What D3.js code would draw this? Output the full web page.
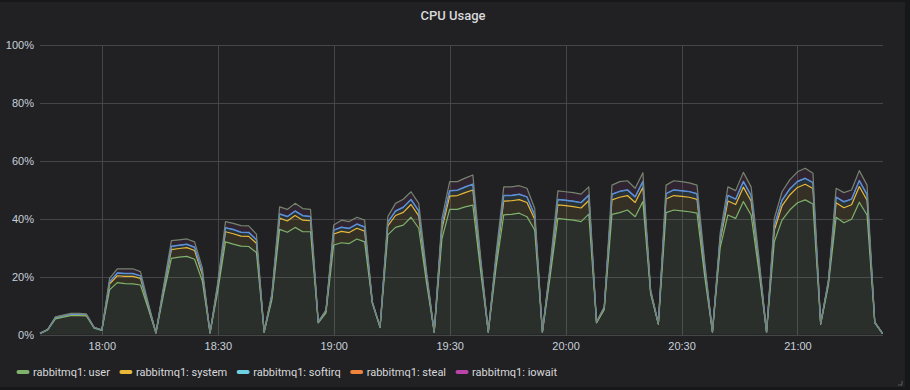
<!DOCTYPE html>
<html>
<head>
<meta charset="utf-8">
<script src="https://cdnjs.cloudflare.com/ajax/libs/d3/7.8.5/d3.min.js"></script>
<style>
  body { margin: 0; background: #161719; }
  svg { display: block; font-family: Roboto, "Helvetica Neue", Arial, sans-serif; }
</style>
</head>
<body>
<svg id="chart" width="910" height="390"></svg>
<script>
// series values (percent), one sample every 2 minutes from 17:44
var user = [0.3,1.6,5.4,6.0,6.5,6.5,6.4,2.2,1.4,15.4,
  17.9,17.6,17.5,17.1,9.0,0.5,14.0,26.3,26.7,27.0,
  26.0,18.5,0.5,15.0,32.0,31.2,30.5,30.4,28.3,0.8,
  12.0,36.3,35.3,37.0,35.5,35.5,4.0,7.5,30.9,31.7,
  31.4,33.0,32.0,10.7,2.4,34.4,37.0,37.8,40.5,36.7,
  18.0,0.8,33.0,43.2,43.2,44.1,44.7,22.0,0.8,23.0,
  41.3,41.5,41.9,40.7,36.1,0.8,20.0,40.1,39.8,39.5,
  39.0,41.6,4.0,8.6,41.5,42.1,43.0,40.7,45.9,14.0,
  3.5,42.1,43.0,42.7,42.4,41.9,20.0,0.8,30.0,41.3,
  40.1,45.9,41.3,22.0,0.8,32.0,39.5,43.0,45.5,46.5,
  45.1,3.5,17.0,40.5,38.6,39.8,45.7,41.3,4.0,0.3];
var system = [0.1,0.1,0.4,0.4,0.4,0.4,0.4,0.2,0.1,2.0,
  2.4,2.5,2.6,2.3,1.0,0.1,1.5,3.0,3.0,3.0,
  3.0,2.2,0.1,1.5,3.5,3.6,3.5,3.5,3.2,0.1,
  1.1,3.9,3.9,4.1,4.0,3.8,0.2,0.5,3.8,3.9,
  3.8,3.7,3.7,0.3,0.2,3.1,4.1,4.4,4.4,4.3,
  2.0,0.1,3.5,4.6,4.8,4.9,5.2,2.5,0.1,2.5,
  4.8,4.7,4.7,4.9,3.7,0.1,2.0,4.7,4.7,4.7,
  4.7,4.7,0.2,0.5,5.0,5.3,5.0,4.9,5.0,0.7,
  0.2,4.7,5.0,5.0,5.0,4.8,2.5,0.1,2.5,4.8,
  4.8,5.0,4.8,2.5,0.1,4.0,4.9,5.2,5.3,5.4,
  5.3,0.2,0.9,5.0,5.2,5.0,5.4,5.1,0.2,0.1];
var softirq = [0,0,0.1,0.1,0.1,0.1,0.1,0,0,0.7,
  0.9,0.9,0.9,0.8,0.3,0,0.5,1.1,1.1,1.1,
  1.1,0.8,0,0.5,1.3,1.4,1.3,1.3,1.2,0,
  0.4,1.4,1.5,1.5,1.5,1.4,0.1,0.2,1.3,1.4,
  1.4,1.4,1.4,0.1,0,1.2,1.5,1.7,1.7,1.6,
  0.7,0,1.3,1.8,1.8,1.9,2.0,0.9,0,0.9,
  1.9,1.8,1.8,1.9,1.4,0,0.7,1.8,1.8,1.8,
  1.8,1.8,0.1,0.2,1.9,2.0,1.9,1.9,1.9,0.3,
  0.1,1.8,1.9,1.9,1.9,1.9,0.9,0,0.9,1.9,
  1.8,1.9,1.9,0.9,0,1.5,1.9,2.0,2.0,2.0,
  2.0,0.1,0.4,1.9,2.0,1.9,2.0,1.9,0.1,0];
var steal = [0,0,0,0,0,0,0,0,0,0.1,
  0.1,0.1,0.1,0.1,0.1,0,0.1,0.1,0.1,0.1,
  0.1,0.1,0,0.1,0.1,0.1,0.1,0.1,0.1,0,
  0.1,0.1,0.1,0.1,0.1,0.1,0,0,0.1,0.1,
  0.1,0.1,0.1,0,0,0.1,0.1,0.1,0.1,0.1,
  0.1,0,0.1,0.1,0.1,0.1,0.1,0.1,0,0.1,
  0.1,0.1,0.1,0.1,0.1,0,0.1,0.1,0.1,0.1,
  0.1,0.1,0,0,0.1,0.1,0.1,0.1,0.1,0,
  0,0.1,0.1,0.1,0.1,0.1,0.1,0,0.1,0.1,
  0.1,0.1,0.1,0.1,0,0.1,0.1,0.1,0.1,0.1,
  0.1,0,0,0.1,0.1,0.1,0.1,0.1,0,0];
var iowait = [0,0.1,0.2,0.2,0.3,0.3,0.2,0.1,0.1,1.2,
  1.4,1.6,1.6,1.4,0.6,0,0.9,1.9,1.8,1.8,
  1.8,1.4,0,0.9,2.1,2.1,2.2,2.2,1.9,0.1,
  0.6,2.4,2.4,2.6,2.4,2.4,0.1,0.3,1.7,2.4,
  2.3,2.3,2.3,0.2,0.1,1.9,2.6,2.7,2.6,2.6,
  1.2,0.1,2.1,3.1,2.9,3.0,3.1,1.5,0.1,1.5,
  2.9,2.9,2.9,2.9,2.3,0.1,1.2,2.9,2.9,2.9,
  2.9,2.8,0.1,0.3,3.1,3.3,3.1,2.9,3.0,0.4,
  0.1,2.9,3.1,3.1,3.0,2.9,1.5,0.1,1.5,2.9,
  2.9,3.1,2.9,1.5,0.1,2.4,2.9,3.1,3.3,3.4,
  3.2,0.1,0.5,3.0,3.1,3.1,3.4,3.2,0.1,0];

var seriesNames = ["rabbitmq1: user", "rabbitmq1: system", "rabbitmq1: softirq", "rabbitmq1: steal", "rabbitmq1: iowait"];
var yTicks = [0, 20, 40, 60, 80, 100];

var keys = ["user", "system", "softirq", "steal", "iowait"];
var colors = { user: "#7eb26d", system: "#eab839", softirq: "#6ed0e0", steal: "#ef843c", iowait: "#ba43a9" };
// colour of the drawn lines (softirq renders bluish, top edge greyish)
var lineColors = { user: "#7eb26d", system: "#eab839", softirq: "#5b8fd6", steal: "#5b8fd6", iowait: "#76846f" };

var start = new Date(2019, 4, 14, 17, 44);
var rows = user.map(function(v, i) {
  return {
    time: d3.timeMinute.offset(start, 2 * i),
    user: v, system: system[i], softirq: softirq[i], steal: steal[i], iowait: iowait[i]
  };
});

var svg = d3.select("#chart");
var plotLeft = 40, plotRight = 882.5, plotTop = 45, plotBottom = 334.5;

// panel
svg.append("rect").attr("x", 0).attr("y", 2).attr("width", 905).attr("height", 385).attr("fill", "#212124");

svg.append("text")
  .attr("x", 453).attr("y", 20)
  .attr("text-anchor", "middle")
  .attr("fill", "#d8d9da")
  .attr("font-size", 13).attr("font-weight", 500)
  .text("CPU Usage");

var x = d3.scaleTime().domain([rows[0].time, rows[rows.length - 1].time]).range([plotLeft, plotRight]);
var y = d3.scaleLinear().domain([0, 100]).range([plotBottom, plotTop]);

var xTicks = x.ticks(d3.timeMinute.every(30));

// grid
var grid = svg.append("g").attr("stroke", "#464648").attr("stroke-width", 1).attr("shape-rendering", "crispEdges");
grid.selectAll("line.h").data(yTicks).enter().append("line")
  .attr("x1", plotLeft).attr("x2", plotRight + 0.5)
  .attr("y1", function(d) { return Math.round(y(d)) + 0.5; })
  .attr("y2", function(d) { return Math.round(y(d)) + 0.5; });
grid.selectAll("line.v").data(xTicks).enter().append("line")
  .attr("x1", function(d) { return Math.round(x(d)) + 0.5; })
  .attr("x2", function(d) { return Math.round(x(d)) + 0.5; })
  .attr("y1", plotTop).attr("y2", plotBottom);

// stacked areas
var stack = d3.stack().keys(keys);
var layers = stack(rows);

var area = d3.area()
  .x(function(d) { return x(d.data.time); })
  .y0(function(d) { return y(d[0]); })
  .y1(function(d) { return y(d[1]); });

svg.append("g").selectAll("path").data(layers).enter().append("path")
  .attr("d", area)
  .attr("fill", function(d) { return colors[d.key]; })
  .attr("fill-opacity", 0.1);

var line = d3.line()
  .x(function(d) { return x(d.data.time); })
  .y(function(d) { return y(d[1]); });

svg.append("g").selectAll("path").data(layers).enter().append("path")
  .attr("d", line)
  .attr("fill", "none")
  .attr("stroke", function(d) { return lineColors[d.key]; })
  .attr("stroke-width", 1.2)
  .attr("stroke-linejoin", "round");

// axes
var xAxis = svg.append("g").attr("transform", "translate(0," + plotBottom + ")")
  .call(d3.axisBottom(x).tickValues(xTicks).tickFormat(d3.timeFormat("%H:%M")).tickSize(0).tickPadding(8));
var yAxis = svg.append("g").attr("transform", "translate(" + plotLeft + ",0)")
  .call(d3.axisLeft(y).tickValues(yTicks).tickFormat(function(d) { return d + "%"; }).tickSize(0).tickPadding(6));
[xAxis, yAxis].forEach(function(a) {
  a.select(".domain").remove();
  a.selectAll("text").attr("fill", "#c7d0d9").attr("font-size", 11).attr("font-family", null);
});

// legend
var legend = svg.append("g").attr("transform", "translate(17,372)");
var lx = 0;
seriesNames.forEach(function(name, i) {
  var g = legend.append("g").attr("transform", "translate(" + lx + ",0)");
  g.append("line").attr("x1", 1.5).attr("x2", 10.5).attr("y1", 0).attr("y2", 0)
    .attr("stroke", colors[keys[i]]).attr("stroke-width", 4).attr("stroke-linecap", "round");
  var t = g.append("text").attr("x", 16).attr("dy", "0.35em")
    .attr("fill", "#d8d9da").attr("font-size", 11).text(name);
  lx += 16 + t.node().getComputedTextLength() + 10;
});

// resize handle
svg.append("path").attr("d", "M898,385 L902,385 L902,381").attr("fill", "none").attr("stroke", "#5a5a5c").attr("stroke-width", 1);
</script>
</body>
</html>
